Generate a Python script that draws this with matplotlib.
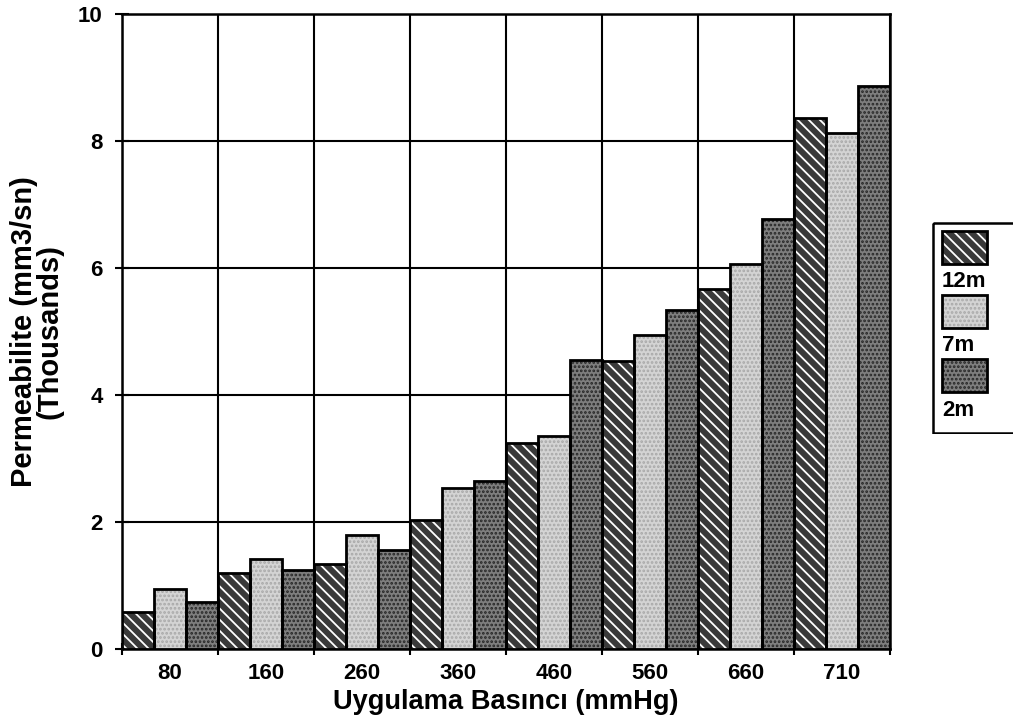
import matplotlib
matplotlib.use("Agg")
import matplotlib.pyplot as plt
import numpy as np
from matplotlib.patches import Rectangle

categories = ["80", "160", "260", "360", "460", "560", "660", "710"]
series_names = ["12m", "7m", "2m"]
vals_12m = [0.59, 1.20, 1.34, 2.03, 3.25, 4.53, 5.67, 8.36]
vals_7m = [0.94, 1.41, 1.80, 2.53, 3.36, 4.95, 6.07, 8.12]
vals_2m = [0.74, 1.24, 1.56, 2.65, 4.55, 5.34, 6.77, 8.86]
yticks = [0, 2, 4, 6, 8, 10]

plt.rcParams['font.family'] = ['Liberation Sans', 'DejaVu Sans']
plt.rcParams['font.weight'] = 'bold'
plt.rcParams['hatch.linewidth'] = 1.3

styles = [
    dict(face='#3a3a3a', hatch='\\\\\\', hcol='white'),
    dict(face='#d4d4d4', hatch='....', hcol='#a8a8a8'),
    dict(face='#7e7e7e', hatch='....', hcol='#262626'),
]

fig = plt.figure(figsize=(10.13, 7.24), dpi=100)
ax = fig.add_axes([0.1204, 0.1036, 0.8786 - 0.1204, 0.9807 - 0.1036])

n = len(categories)
w = 1.0 / 3
x = np.arange(n)
series = [vals_12m, vals_7m, vals_2m]
for i, (vals, st) in enumerate(zip(series, styles)):
    pos = x - 0.5 + w * i + w / 2
    ax.bar(pos, vals, width=w, color=st['face'], edgecolor=st['hcol'],
           hatch=st['hatch'], linewidth=0, zorder=3)
    ax.bar(pos, vals, width=w, fill=False, edgecolor='black',
           linewidth=2.0, zorder=4)

ax.set_xlim(-0.5, n - 0.5)
ax.set_ylim(0, 10)
ax.set_yticks(yticks)
ax.set_yticklabels([str(t) for t in yticks], fontsize=16, fontweight='bold')
ax.set_xticks(x)
ax.set_xticklabels(categories, fontsize=16, fontweight='bold')
ax.set_xticks(np.arange(n + 1) - 0.5, minor=True)
ax.tick_params(axis='x', which='major', length=0, pad=10)
ax.tick_params(axis='x', which='minor', length=8, width=1.5, direction='inout')
ax.tick_params(axis='y', which='major', length=10, width=1.5, direction='inout', pad=9)

ax.grid(True, which='minor', axis='x', color='black', linewidth=1.5, zorder=1)
ax.grid(True, which='major', axis='y', color='black', linewidth=1.5, zorder=1)
ax.grid(False, which='major', axis='x')
ax.set_axisbelow(True)
for s in ax.spines.values():
    s.set_linewidth(1.8)

ax.set_xlabel("Uygulama Basıncı (mmHg)", fontsize=19.6, fontweight='bold', labelpad=4)
ax.set_ylabel("Permeabilite (mm3/sn)\n(Thousands)", fontsize=21, fontweight='bold',
              labelpad=10, linespacing=0.9)

# legend (patch above label)
W, H = 1013.0, 724.0
lax = fig.add_axes([932 / W, 1 - 434 / H, (1013 - 932) / W + 0.01, (434 - 222) / H])
lax.set_xlim(932, 1023)
lax.set_ylim(434, 222)
lax.axis('off')
lax.add_patch(Rectangle((933, 223), 100, 210, fill=False, edgecolor='black', linewidth=1.8))
patch_tops = [231, 295, 359]
label_y = [282, 346, 410]
for st, name, ty, ly in zip(styles, series_names, patch_tops, label_y):
    lax.add_patch(Rectangle((942, ty), 45, 33, facecolor=st['face'], edgecolor=st['hcol'],
                            hatch=st['hatch'], linewidth=0))
    lax.add_patch(Rectangle((942, ty), 45, 33, fill=False, edgecolor='black', linewidth=2))
    lax.text(942, ly, name, fontsize=16, fontweight='bold', va='center', ha='left')

fig.savefig("out.png", dpi=100)
